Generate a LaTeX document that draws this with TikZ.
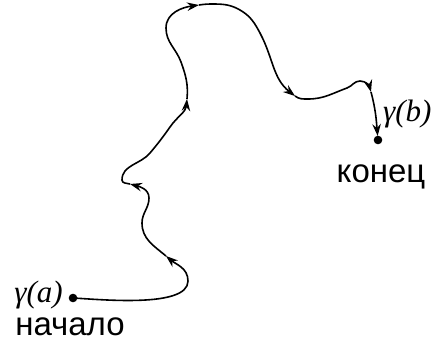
\documentclass[tikz,border=0pt]{standalone}
\usepackage{fontspec}
\setmainfont{Liberation Sans}
\newfontfamily\gfont{Liberation Serif}
\usetikzlibrary{arrows.meta}
\begin{document}
\begin{tikzpicture}[x=1pt,y=1pt,
  curve/.style={line width=1.6pt},
  tipped/.style={-{Stealth[length=12pt,width=8.5pt,inset=4pt]}},
  gl/.style={font=\gfont\itshape\fontsize{31}{31}\selectfont, inner sep=0pt},
  lab/.style={font=\fontsize{33}{33}\selectfont, inner sep=0pt, anchor=base}]
\useasboundingbox (0,0) rectangle (434,-341);
\coordinate (s) at (73,-298);
\coordinate (a1) at (188,-281);
\coordinate (r1) at (166,-256);
\coordinate (a2) at (142,-223);
\coordinate (a3) at (149,-198);
\coordinate (r2) at (130,-184);
\coordinate (a4) at (122,-180);
\coordinate (a5) at (150,-153);
\coordinate (a6) at (170,-127);
\coordinate (r3) at (187,-99);
\coordinate (a7) at (181,-62);
\coordinate (a8) at (166,-28);
\coordinate (r4) at (199,-5);
\coordinate (a9) at (212,-4);
\coordinate (a10) at (240,-10);
\coordinate (a11) at (260,-33);
\coordinate (r5) at (295,-96);
\coordinate (a12) at (308,-99);
\coordinate (a13) at (347,-88);
\coordinate (a14) at (360,-81);
\coordinate (r6) at (371,-92);
\coordinate (e) at (378,-140);
\draw[curve,tipped] (s) to[out=-3,in=-90,looseness=0.6] (a1) to[out=90,in=-40] (r1);
\draw[curve,tipped] (r1) to[out=140,in=-90] (a2) to[out=90,in=-90] (a3) to[out=90,in=-15] (r2);
\draw[curve,tipped] (r2) to[out=165,in=-90] (a4) to[out=90,in=-130] (a5) to[out=50,in=-125] (a6) to[out=55,in=-95] (r3);
\draw[curve,tipped] (r3) to[out=85,in=-70] (a7) to[out=110,in=-90] (a8) to[out=90,in=188] (r4);
\draw[curve,tipped] (r4) to[out=8,in=180] (a9) to[out=0,in=150] (a10) to[out=-30,in=118] (a11) to[out=-62,in=142] (r5);
\draw[curve,tipped] (r5) to[out=-38,in=180] (a12) to[out=0,in=200] (a13) to[out=20,in=180] (a14) to[out=0,in=105] (r6);
\draw[curve,tipped,shorten >=4pt] (r6) to[out=-75,in=95] (e);
\fill (s) circle (4.3pt);
\fill (e) circle (4.3pt);
\node[gl, anchor=base east] (ga) at (63,-302) {γ(a)};
\node[gl, anchor=base west] (gb) at (383,-121) {γ(b)};
\node[lab] (nach) at (70,-335) {начало};
\node[lab] (kon) at (381,-182) {конец};
\end{tikzpicture}
\end{document}
